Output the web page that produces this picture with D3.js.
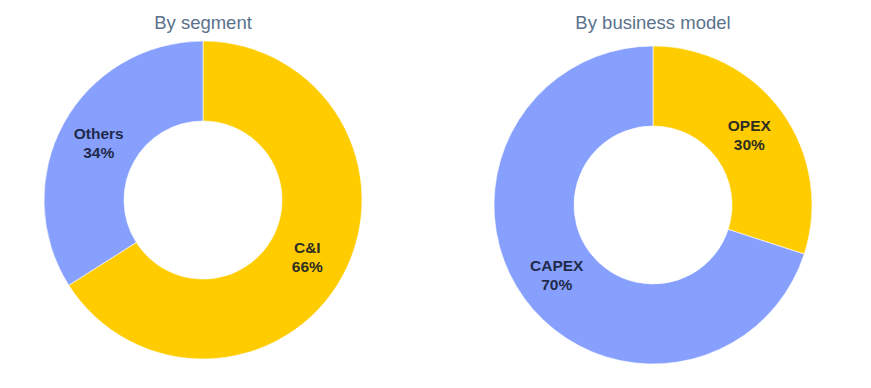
<!DOCTYPE html>
<html>
<head>
<meta charset="utf-8">
<script src="https://cdn.jsdelivr.net/npm/d3@7"></script>
<style>
  html, body { margin: 0; padding: 0; background: #fff; }
  svg { display: block; }
</style>
</head>
<body>
<svg id="chart" width="871" height="388"></svg>
<script>
// Data
const segmentLabels = ["C&I", "Others"];
const segmentValues = [66, 34];
const modelLabels = ["OPEX", "CAPEX"];
const modelValues = [30, 70];
const chartTitles = ["By segment", "By business model"];

const yellow = "#FFCC00";
const blue = "#87A0FE";

const svg = d3.select("#chart");

const panels = [
  { title: chartTitles[0], labels: segmentLabels, values: segmentValues,
    colors: [yellow, blue], textColors: ["#2e2e22", "#1f2a4a"], cx: 203, cy: 200, ty: 29 },
  { title: chartTitles[1], labels: modelLabels, values: modelValues,
    colors: [yellow, blue], textColors: ["#2e2e22", "#1f2a4a"], cx: 653, cy: 205, ty: 29 }
];

const outerR = 159, innerR = 79;
const pie = d3.pie().sort(null).value(d => d.value);
const arc = d3.arc().innerRadius(innerR).outerRadius(outerR);

panels.forEach(p => {
  svg.append("text")
    .attr("x", p.cx)
    .attr("y", p.ty)
    .attr("text-anchor", "middle")
    .attr("font-family", "'Liberation Sans', Arial, sans-serif")
    .attr("font-size", 18.5)
    .attr("fill", "#5a718c")
    .text(p.title);

  const data = p.labels.map((l, i) => ({ label: l, value: p.values[i], color: p.colors[i], tc: p.textColors[i] }));
  const g = svg.append("g").attr("transform", `translate(${p.cx},${p.cy})`);
  const arcs = pie(data);

  g.selectAll("path").data(arcs).enter().append("path")
    .attr("d", arc)
    .attr("fill", d => d.data.color)
    .attr("stroke", "#fff")
    .attr("stroke-width", 0.6);

  const lbl = g.selectAll("text.lbl").data(arcs).enter().append("text")
    .attr("class", "lbl")
    .attr("transform", d => `translate(${arc.centroid(d)})`)
    .attr("text-anchor", "middle")
    .attr("font-family", "'Liberation Sans', Arial, sans-serif")
    .attr("font-weight", "bold")
    .attr("font-size", 15.5)
    .attr("fill", d => d.data.tc);
  lbl.append("tspan").attr("x", 0).attr("y", -4).text(d => d.data.label);
  lbl.append("tspan").attr("x", 0).attr("y", 15).text(d => d.data.value + "%");
});
</script>
</body>
</html>
